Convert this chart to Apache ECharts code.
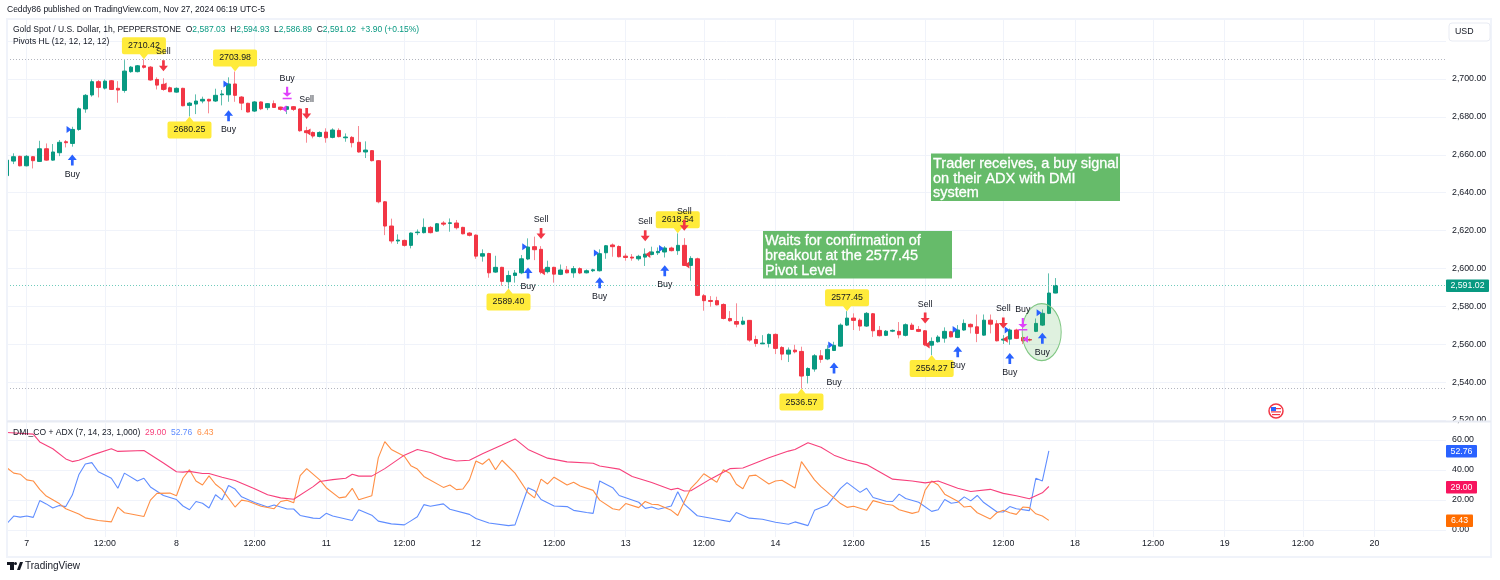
<!DOCTYPE html>
<html>
<head>
<meta charset="utf-8">
<style>html,body{margin:0;padding:0;background:#fff}#main{width:1500px;height:580px}</style>
<script src="https://cdn.jsdelivr.net/npm/echarts@6/dist/echarts.min.js"></script>
</head>
<body>
<div id="main"></div>
<script>
// hourly candles, one entry per bar from left to right
const opens = [2649.0,2656.7,2659.2,2654.2,2659.0,2656.5,2663.2,2657.2,2661.1,2666.9,2666.0,2673.4,2684.2,2691.6,2698.6,2695.2,2699.1,2695.1,2694.0,2703.9,2703.9,2707.0,2706.3,2699.8,2697.2,2695.4,2693.1,2695.1,2686.1,2686.8,2688.4,2689.3,2688.4,2691.7,2691.7,2697.4,2690.5,2687.2,2683.1,2687.9,2684.9,2687.0,2685.2,2684.0,2685.4,2684.2,2672.7,2671.8,2669.7,2672.0,2669.2,2672.9,2669.0,2669.2,2666.6,2661.5,2662.2,2656.9,2635.2,2622.4,2614.5,2614.8,2612.2,2618.9,2618.9,2621.7,2619.7,2624.0,2623.8,2624.0,2621.7,2618.7,2617.6,2606.5,2607.9,2598.1,2600.6,2593.0,2596.3,2597.7,2605.0,2611.5,2610.1,2598.3,2600.6,2596.9,2599.2,2597.7,2599.9,2597.7,2598.8,2598.8,2608.3,2612.4,2611.6,2606.5,2606.0,2605.1,2606.0,2607.4,2608.3,2608.7,2610.8,2609.4,2612.2,2601.6,2605.1,2585.6,2583.1,2583.0,2581.0,2573.6,2572.0,2570.6,2572.6,2562.5,2560.2,2560.4,2565.2,2558.3,2554.8,2556.9,2556.2,2543.5,2546.9,2553.9,2552.2,2556.7,2559.0,2570.1,2573.8,2572.7,2569.6,2576.1,2567.3,2564.7,2566.9,2566.8,2564.7,2570.1,2567.8,2567.1,2559.5,2561.3,2563.2,2566.6,2563.6,2567.5,2570.5,2569.2,2564.8,2572.7,2570.8,2562.2,2562.7,2567.5,2563.6,2562.5,2566.8,2570.1,2576.3,2587.03];
const closes = [2657.2,2659.0,2654.2,2659.2,2656.9,2663.2,2657.2,2661.5,2666.6,2666.4,2673.4,2684.3,2691.4,2698.6,2695.6,2698.9,2694.5,2694.2,2704.2,2706.3,2707.0,2706.2,2699.5,2696.8,2694.5,2693.3,2695.1,2685.9,2687.3,2688.4,2689.3,2688.4,2691.4,2692.1,2697.4,2691.4,2687.3,2682.6,2687.9,2684.3,2687.0,2685.0,2684.0,2685.4,2684.0,2672.7,2671.7,2669.9,2671.8,2669.0,2673.1,2669.6,2669.4,2666.4,2661.5,2662.5,2656.9,2635.2,2622.4,2614.5,2615.0,2612.2,2618.7,2619.2,2621.7,2618.9,2623.6,2623.4,2624.1,2621.5,2618.3,2617.5,2606.5,2607.8,2597.7,2600.6,2593.2,2596.3,2597.6,2605.1,2611.3,2609.9,2598.1,2600.6,2597.0,2599.2,2597.7,2599.9,2597.6,2598.8,2599.3,2607.8,2612.0,2611.5,2606.2,2605.8,2605.5,2606.4,2607.6,2608.7,2609.0,2610.8,2609.4,2612.2,2601.6,2605.3,2585.8,2583.0,2582.6,2580.8,2573.6,2572.4,2570.6,2572.2,2562.2,2560.4,2560.6,2565.2,2557.8,2554.8,2556.9,2556.0,2543.2,2547.2,2553.9,2552.0,2557.3,2559.4,2570.1,2573.8,2572.6,2569.6,2576.3,2567.1,2564.5,2566.9,2567.3,2565.0,2570.3,2567.8,2566.8,2559.7,2561.5,2563.8,2566.8,2563.9,2567.5,2571.0,2569.2,2565.7,2572.7,2570.6,2561.8,2562.7,2567.5,2563.1,2561.7,2562.2,2571.0,2576.3,2587.03,2591.02];
const lows = [2649.0,2655.1,2653.9,2653.9,2652.8,2656.2,2656.9,2656.9,2659.3,2663.9,2664.3,2672.7,2682.2,2690.7,2690.3,2694.5,2694.2,2687.5,2692.8,2703.3,2703.5,2705.5,2699.1,2694.5,2693.8,2693.1,2692.8,2685.6,2680.25,2681.5,2687.2,2681.9,2687.9,2686.1,2688.0,2688.0,2683.6,2682.4,2682.6,2683.6,2683.6,2684.9,2683.3,2681.5,2683.1,2672.2,2666.4,2668.7,2669.2,2666.4,2668.7,2669.2,2666.9,2663.9,2661.1,2658.3,2656.5,2634.4,2617.6,2613.2,2612.9,2611.5,2610.6,2617.6,2618.5,2618.5,2619.4,2622.4,2619.4,2620.6,2618.0,2616.9,2605.1,2603.6,2595.1,2597.7,2590.9,2589.40,2592.5,2597.0,2604.4,2604.4,2597.0,2597.4,2592.5,2596.5,2597.4,2595.1,2597.0,2597.4,2598.1,2598.4,2605.1,2606.2,2605.8,2604.1,2604.1,2604.1,2601.3,2606.9,2607.1,2605.8,2609.0,2607.2,2601.3,2593.5,2585.4,2577.7,2579.8,2580.5,2573.1,2571.9,2568.9,2570.1,2561.3,2558.7,2560.1,2558.3,2554.8,2551.6,2550.6,2555.2,2536.57,2539.3,2545.5,2550.2,2551.6,2556.4,2558.7,2569.6,2567.5,2567.1,2569.2,2563.9,2564.1,2564.3,2566.4,2563.1,2564.1,2567.5,2566.4,2559.0,2554.27,2560.8,2560.8,2563.6,2563.2,2567.1,2565.7,2561.1,2564.5,2565.7,2561.5,2560.1,2559.7,2562.7,2560.1,2561.5,2566.4,2569.6,2575.9,2586.89];
const highs = [2657.2,2660.8,2659.5,2659.9,2659.3,2667.4,2666.0,2665.7,2667.8,2667.8,2674.8,2685.0,2692.1,2699.8,2699.5,2699.8,2699.5,2698.9,2710.0,2706.9,2707.4,2710.42,2706.9,2700.9,2700.4,2696.0,2695.6,2695.4,2687.9,2691.9,2690.7,2689.6,2694.9,2694.2,2700.9,2703.98,2691.0,2687.5,2688.4,2688.2,2687.3,2688.7,2685.4,2685.7,2685.7,2684.5,2674.8,2672.4,2672.4,2674.0,2674.0,2674.0,2671.3,2669.9,2675.2,2667.1,2662.5,2657.2,2635.6,2626.3,2618.0,2615.3,2619.0,2620.6,2626.4,2622.4,2624.0,2625.0,2626.4,2625.6,2622.0,2619.2,2618.0,2610.1,2608.3,2606.7,2600.9,2598.8,2599.2,2607.1,2615.9,2616.8,2611.8,2604.1,2600.9,2602.1,2601.3,2601.3,2600.6,2599.5,2599.9,2610.1,2612.4,2613.2,2612.2,2607.9,2607.6,2607.2,2610.6,2611.5,2611.1,2611.8,2611.5,2618.54,2616.0,2606.5,2605.7,2586.5,2585.4,2585.1,2581.6,2577.5,2581.6,2574.5,2572.7,2564.5,2564.8,2565.7,2565.7,2559.0,2558.3,2559.7,2558.7,2547.8,2554.8,2556.9,2559.5,2561.3,2571.0,2577.45,2576.3,2573.6,2577.0,2576.5,2569.6,2567.5,2567.8,2571.7,2571.0,2571.3,2569.6,2567.5,2563.6,2564.8,2568.9,2567.1,2570.1,2573.1,2571.0,2575.7,2575.7,2575.7,2572.7,2564.8,2568.3,2568.2,2564.3,2563.1,2573.6,2578.4,2597.4,2594.93];

const xTickBars = [3,15,26,38,49,61,72,84,95,107,118,130,141,153,164,176,187,199,210];
const xTickLabels = ['7','12:00','8','12:00','11','12:00','12','12:00','13','12:00','14','12:00','15','12:00','18','12:00','19','12:00','20'];
const dmiTicks = [0,20,40,60];

// dotted price levels: pivot high, last price, pivot low
const levels = [2710.42,2591.02,2536.57];

// pivot callouts
const pivotHighBars = [21,35,103,129];
const pivotHighPrices = [2710.42,2703.98,2618.54,2577.45];
const pivotLowBars = [28,77,122,142];
const pivotLowPrices = [2680.25,2589.40,2536.57,2554.27];

// signal arrows
const buyBars = [10,34,80,91,101,127,146,154,159];
const buyPrices = [2657.2,2680.6,2597.6,2592.5,2598.8,2547.4,2556.0,2552.5,2563.2];
const sellBars = [24,46,82,98,104,141,153];
const sellPrices = [2707.0,2681.8,2618.4,2617.3,2622.8,2573.8,2571.2];
const pinkBuyBars = [43,156];
const pinkBuyPrices = [2692.6,2570.6];

// small entry triangles
const blueTriBars = [9.5,33.6,79.5,90.5,100.5,126.5,145.6,153.6,158.5];
const blueTriPrices = [2673.4,2697.4,2611.5,2608.1,2610.6,2559.6,2567.8,2567.5,2576.6];
const redTriBars = [24.1,46.2,82.2,98.4,104.4,141.3,153.3];
const redTriPrices = [2696.3,2672.0,2598.3,2607.4,2601.8,2559.6,2562.6];
const pinkTriBars = [42.5,156.4];
const pinkTriPrices = [2684.3,2562.6];

// DMI_CO + ADX vertices
const adxBars = [0,4,5,7,9,10,11,13,16,17,21,24,26,27,28,30,31,33,35,38,40,42,44,47,48,50,52,53,54,56,58,61,63,65,67,69,71,73,76,78,80,83,86,90,91,94,96,99,102,103,104,105,108,111,113,117,120,121,123,125,127,129,132,136,139,141,143,146,148,151,153,155,157,159,160];
const adxValues = [65.0,63.9,58.7,54.2,47.4,45.6,46.5,49.9,54.2,52.4,53.0,44.7,38.8,38.6,39.1,37.7,37.7,35.2,33.0,27.5,23.5,21.4,20.5,28.9,32.3,33.6,34.5,37.2,35.9,35.9,40.9,49.9,53.7,51.7,48.1,46.0,46.5,50.8,56.7,60.7,53.7,47.9,45.4,44.5,42.7,40.6,35.7,31.6,26.9,27.8,26.0,26.2,33.9,40.9,41.3,48.1,52.6,53.7,58.2,55.1,49.9,46.7,43.6,33.9,32.7,31.4,32.7,27.8,25.7,27.1,24.4,22.8,20.8,24.8,29.0];
const plusBars = [0,1,2,3,4,5,6,7,8,9,10,11,12,13,14,16,17,18,20,21,22,24,26,27,28,29,30,31,32,33,34,35,36,38,40,41,43,44,45,47,48,49,50,53,54,56,57,59,61,62,63,64,65,67,68,71,72,74,77,78,80,81,82,84,86,87,89,90,91,93,94,97,98,99,100,102,103,104,106,109,111,112,114,116,118,120,121,123,124,126,128,129,131,132,133,135,136,137,138,140,142,143,144,145,146,147,148,149,150,152,153,154,155,157,158,159,160];
const plusValues = [4.5,9.3,8.6,9.3,8.4,19.6,17.4,14.7,16.3,15.6,23.3,36.8,44.0,44.9,38.8,34.5,27.8,37.9,32.7,34.5,28.7,23.0,20.3,16.0,13.5,19.0,17.8,14.7,23.5,20.1,29.6,27.3,22.1,18.3,15.3,16.7,14.0,14.0,9.7,7.9,7.7,11.1,9.3,6.3,13.5,9.9,5.9,4.1,3.4,6.1,8.8,16.9,15.8,17.4,13.8,10.4,7.7,4.7,2.9,3.4,28.2,26.2,20.3,16.0,15.6,13.1,11.7,11.1,32.7,28.2,23.0,18.5,14.4,15.3,13.8,16.0,25.5,17.2,9.5,7.2,5.6,11.7,7.9,7.2,5.2,3.8,5.4,2.9,13.1,16.7,27.8,31.6,25.1,27.8,21.7,19.2,19.0,23.9,21.0,18.5,12.4,13.5,20.3,17.8,18.5,22.1,19.4,23.0,18.3,12.2,12.0,15.6,14.2,12.9,34.5,32.7,52.76];
const minusBars = [0,1,2,3,4,5,6,8,9,11,12,14,16,17,18,21,22,23,25,26,27,28,29,30,31,32,33,35,36,37,39,41,42,43,44,45,46,48,49,51,52,53,54,56,57,58,59,61,62,63,64,67,68,69,70,71,72,73,74,75,76,78,80,81,82,83,84,86,87,88,90,91,93,94,95,97,98,99,100,102,103,105,106,107,109,110,111,112,113,114,115,117,118,119,121,122,124,125,128,129,130,132,133,135,136,137,139,140,141,142,143,144,146,147,148,149,151,152,153,154,155,156,157,158,159,160];
const minusValues = [41.3,37.9,37.2,33.4,32.7,27.1,22.6,17.6,14.2,10.6,8.1,6.3,5.4,15.3,11.5,9.0,19.9,24.4,24.6,22.8,34.5,40.2,32.7,30.0,36.1,30.5,27.1,15.3,19.9,19.2,15.8,14.2,19.0,19.9,18.1,36.3,40.9,33.4,28.2,21.4,22.1,27.8,20.1,22.8,48.1,58.9,53.7,49.2,42.9,40.6,35.7,28.4,30.0,26.9,27.3,33.4,46.0,43.8,47.4,40.2,46.5,37.9,24.8,21.4,33.9,30.7,35.2,30.0,31.8,29.3,26.4,19.9,14.2,13.3,17.6,14.9,19.0,17.2,16.9,13.1,9.7,27.8,32.3,37.5,31.8,40.2,37.9,30.5,27.5,36.1,36.6,30.7,32.7,33.2,28.0,45.6,33.4,28.9,17.6,15.1,15.8,13.1,19.6,17.2,16.5,13.5,11.1,12.2,26.6,32.7,30.0,23.9,19.2,15.3,15.8,11.5,7.4,11.5,13.1,11.5,10.4,15.3,14.9,10.8,9.3,6.43];

const UP = '#089981', DOWN = '#f23645', BLUE = '#2962ff', PINK = '#e040fb', INK = '#131722', GRID = '#f0f3fa';
const FONT = '"Liberation Sans", Arial, sans-serif';

const arrowUp = 'path://M5 0L10 5.5L6.5 5.5L6.5 11L3.5 11L3.5 5.5L0 5.5Z';
const arrowDown = 'path://M3.5 0L6.5 0L6.5 5.5L10 5.5L5 11L0 5.5L3.5 5.5Z';
const arrowDownBar = 'path://M3.8 0L6.2 0L6.2 6L10 6L5 10L0 6L3.8 6ZM0 11L10 11L10 12.5L0 12.5Z';
const triRight = 'path://M0 0L6 4L0 8Z';
const triLeft = 'path://M6 0L0 4L6 8Z';
const calloutDown = 'path://M2 0L42 0Q44 0 44 2L44 15Q44 17 42 17L26 17L22 22L18 17L2 17Q0 17 0 15L0 2Q0 0 2 0Z';
const calloutUp = 'path://M22 0L26 5L42 5Q44 5 44 7L44 20Q44 22 42 22L2 22Q0 22 0 20L0 7Q0 5 2 5L18 5Z';

const zip = (xs, ys) => xs.map((x, i) => [x, ys[i]]);
const money = v => v.toLocaleString('en-US', {minimumFractionDigits: 2, maximumFractionDigits: 2});

function markerSeries(bars, prices, symbol, size, color, text, side) {
    return {
        type: 'scatter', xAxisIndex: 0, yAxisIndex: 0, z: 8, silent: true,
        symbol: symbol, symbolSize: size,
        itemStyle: {color: color, opacity: 1},
        label: text ? {show: true, position: side, distance: 4, formatter: text, fontSize: 8.8, color: INK, fontFamily: FONT} : {show: false},
        data: zip(bars, prices)
    };
}

function pivotSeries(bars, prices, symbol, offsetY, labelY) {
    return {
        type: 'scatter', xAxisIndex: 0, yAxisIndex: 0, z: 7, silent: true,
        symbol: symbol, symbolSize: [44, 22], symbolOffset: [0, offsetY],
        itemStyle: {color: '#ffeb3b', opacity: 1},
        label: {
            show: true, position: 'inside', offset: [0, labelY], fontSize: 8.8, color: INK, fontFamily: FONT,
            formatter: p => p.value[1].toFixed(2)
        },
        data: zip(bars, prices)
    };
}

function lineSeries(bars, values, color) {
    return {
        type: 'line', xAxisIndex: 1, yAxisIndex: 1, showSymbol: false, silent: true,
        lineStyle: {width: 1.1, color: color}, itemStyle: {color: color},
        data: zip(bars, values)
    };
}

function tag(y, w, color, text) {
    return [
        {type: 'rect', z: 20, shape: {x: 1446, y: y, width: w, height: 12.5, r: 1}, style: {fill: color}},
        {type: 'text', z: 21, style: {x: 1446 + w / 2, y: y + 6.5, text: text, fill: '#fff', font: '8.8px ' + FONT, align: 'center', verticalAlign: 'middle'}}
    ];
}

function noteBox(x, y, lines) {
    return [
        {type: 'rect', z: 20, shape: {x: x, y: y, width: 189, height: 47.5}, style: {fill: '#66bb6a'}},
        {type: 'text', z: 21, style: {x: x + 2, y: y + 3, text: lines.join('\n'), fill: '#fff', stroke: '#fff', lineWidth: 0.3, font: '14.5px ' + FONT, lineHeight: 14.7}}
    ];
}

const wicks = opens.map((o, i) => [i, o, closes[i], lows[i], highs[i]]);
const bodies = opens.map((o, i) => [i, o, closes[i], Math.min(o, closes[i]), Math.max(o, closes[i])]);

const chart = echarts.init(document.getElementById('main'));
chart.setOption({
    animation: false,
    backgroundColor: '#fff',
    textStyle: {fontFamily: FONT},
    grid: [
        {left: 7, right: 54, top: 19, height: 401},
        {left: 7, right: 54, top: 423, height: 114}
    ],
    xAxis: [
        {
            type: 'value', gridIndex: 0, min: -0.03, max: 221,
            axisLine: {show: false},
            axisTick: {show: false, customValues: xTickBars},
            axisLabel: {show: false, customValues: xTickBars},
            splitLine: {show: true, lineStyle: {color: GRID, width: 1}}
        },
        {
            type: 'value', gridIndex: 1, min: -0.03, max: 221,
            axisLine: {show: false},
            axisTick: {show: false, customValues: xTickBars},
            axisLabel: {
                show: true, customValues: xTickBars, margin: 2, fontSize: 8.8, color: INK, fontFamily: FONT,
                formatter: v => xTickLabels[xTickBars.indexOf(v)]
            },
            splitLine: {show: true, lineStyle: {color: GRID, width: 1}}
        }
    ],
    yAxis: [
        {
            type: 'value', gridIndex: 0, position: 'right', min: 2520, max: 2731.7, interval: 20,
            axisLine: {show: false}, axisTick: {show: false},
            axisLabel: {
                margin: 6, fontSize: 8.8, color: INK, fontFamily: FONT,
                formatter: v => v > 2700 ? '' : money(v)
            },
            splitLine: {lineStyle: {color: GRID, width: 1}}
        },
        {
            type: 'value', gridIndex: 1, position: 'right', min: -4.67, max: 71.33,
            axisLine: {show: false},
            axisTick: {show: false, customValues: dmiTicks},
            axisLabel: {
                customValues: dmiTicks, margin: 6, fontSize: 8.8, color: INK, fontFamily: FONT,
                formatter: v => v.toFixed(2)
            },
            splitLine: {lineStyle: {color: GRID, width: 1}}
        }
    ],
    series: [
        {
            type: 'candlestick', xAxisIndex: 0, yAxisIndex: 0, z: 3, silent: true, barWidth: 1,
            itemStyle: {color: '#5fbfae', color0: '#f78a94', borderColor: '#5fbfae', borderColor0: '#f78a94', borderWidth: 1},
            markLine: {
                silent: true, symbol: 'none', label: {show: false},
                data: [
                    {yAxis: levels[0], lineStyle: {color: '#b2b5be', type: [1, 2], width: 1}},
                    {yAxis: levels[1], lineStyle: {color: '#6fcbbb', type: [1, 2], width: 1}},
                    {yAxis: levels[2], lineStyle: {color: '#b2b5be', type: [1, 2], width: 1}}
                ]
            },
            data: wicks
        },
        {
            type: 'candlestick', xAxisIndex: 0, yAxisIndex: 0, z: 4, silent: true, barWidth: 4,
            itemStyle: {color: UP, color0: DOWN, borderColor: UP, borderColor0: DOWN, borderWidth: 1},
            data: bodies
        },
        // highlight ellipse around the last signal
        {
            type: 'scatter', xAxisIndex: 0, yAxisIndex: 0, z: 5, silent: true,
            symbol: 'circle', symbolSize: [39, 57],
            itemStyle: {color: 'rgba(76,175,80,0.18)', borderColor: '#81c784', borderWidth: 1.2, opacity: 1},
            data: [[158.9, 2566.4]]
        },
        pivotSeries(pivotHighBars, pivotHighPrices, calloutDown, -11, -2.5),
        pivotSeries(pivotLowBars, pivotLowPrices, calloutUp, 11, 2.5),
        markerSeries(buyBars, buyPrices, arrowUp, [9, 11], BLUE, 'Buy', 'bottom'),
        markerSeries(sellBars, sellPrices, arrowDown, [9, 11], DOWN, 'Sell', 'top'),
        markerSeries(pinkBuyBars, pinkBuyPrices, arrowDownBar, [9, 12.5], PINK, 'Buy', 'top'),
        markerSeries(blueTriBars, blueTriPrices, triRight, [5, 7], BLUE),
        markerSeries(redTriBars, redTriPrices, triLeft, [5, 7], DOWN),
        markerSeries(pinkTriBars, pinkTriPrices, triLeft, [5, 7], PINK),
        lineSeries(plusBars, plusValues, '#5f8dff'),
        lineSeries(minusBars, minusValues, '#ff8f45'),
        lineSeries(adxBars, adxValues, '#f7417c')
    ],
    graphic: [
        // first candle is cut by the pane edge
        {type: 'rect', z: 9, shape: {x: 0, y: 19, width: 6.5, height: 402}, style: {fill: '#fff'}},
        // outer frame and pane divider
        {type: 'rect', z: 10, shape: {x: 7, y: 19, width: 1484, height: 538}, style: {fill: 'none', stroke: GRID, lineWidth: 2}},
        {type: 'line', z: 10, shape: {x1: 7, y1: 421.5, x2: 1491, y2: 421.5}, style: {stroke: '#e8ebf3', lineWidth: 2}},
        {type: 'text', z: 21, style: {x: 7, y: 10, text: 'Ceddy86 published on TradingView.com, Nov 27, 2024 06:19 UTC-5', fill: INK, font: '8.5px ' + FONT, verticalAlign: 'middle'}},
        {type: 'text', z: 21, style: {
            x: 13, y: 30, verticalAlign: 'middle', font: '8.5px ' + FONT, fill: INK,
            text: '{k|Gold Spot / U.S. Dollar, 1h, PEPPERSTONE  O}{v|2,587.03}{k|  H}{v|2,594.93}{k|  L}{v|2,586.89}{k|  C}{v|2,591.02}{v|  +3.90 (+0.15%)}',
            rich: {k: {fill: INK, font: '8.5px ' + FONT}, v: {fill: UP, font: '8.5px ' + FONT}}
        }},
        {type: 'text', z: 21, style: {x: 13, y: 42, text: 'Pivots HL (12, 12, 12, 12)', fill: INK, font: '8.5px ' + FONT, verticalAlign: 'middle'}},
        {type: 'text', z: 21, style: {
            x: 13, y: 432.5, verticalAlign: 'middle', font: '8.5px ' + FONT, fill: INK,
            text: '{k|DMI_CO + ADX (7, 14, 23, 1,000)  }{a|29.00}{k|  }{b|52.76}{k|  }{c|6.43}',
            rich: {
                k: {fill: INK, font: '8.5px ' + FONT}, a: {fill: '#f7417c', font: '8.5px ' + FONT},
                b: {fill: '#5f8dff', font: '8.5px ' + FONT}, c: {fill: '#ff8f45', font: '8.5px ' + FONT}
            }
        }},
        // currency button
        {type: 'rect', z: 20, shape: {x: 1449, y: 23, width: 41, height: 18, r: 3}, style: {fill: '#fff', stroke: '#e8ebf3', lineWidth: 1}},
        {type: 'text', z: 21, style: {x: 1455, y: 32, text: 'USD', fill: INK, font: '8.8px ' + FONT, verticalAlign: 'middle'}},
        ...tag(279.5, 43, UP, money(closes[closes.length - 1])),
        ...tag(445, 31, BLUE, plusValues[plusValues.length - 1].toFixed(2)),
        ...tag(481, 31, '#f7145e', adxValues[adxValues.length - 1].toFixed(2)),
        ...tag(514.5, 27, '#ff6d00', minusValues[minusValues.length - 1].toFixed(2)),
        ...noteBox(931, 153.5, ['Trader receives, a buy signal', 'on their ADX with DMI', 'system']),
        ...noteBox(763, 231, ['Waits for confirmation of', 'breakout at the 2577.45', 'Pivot Level']),
        // economic calendar flag
        {type: 'circle', z: 20, shape: {cx: 1276, cy: 411, r: 7}, style: {fill: '#fff', stroke: DOWN, lineWidth: 1.5}},
        {type: 'rect', z: 21, shape: {x: 1271, y: 407, width: 5, height: 4}, style: {fill: BLUE}},
        {type: 'rect', z: 21, shape: {x: 1276, y: 408, width: 5, height: 1.2}, style: {fill: DOWN}},
        {type: 'rect', z: 21, shape: {x: 1271, y: 411.3, width: 10, height: 1.2}, style: {fill: DOWN}},
        {type: 'rect', z: 21, shape: {x: 1272, y: 414, width: 8, height: 1.2}, style: {fill: DOWN}},
        // TradingView logo
        {type: 'polygon', z: 21, shape: {points: [[7, 562], [14, 562], [14, 570], [10, 570], [10, 565], [7, 565]]}, style: {fill: INK}},
        {type: 'circle', z: 21, shape: {cx: 15.5, cy: 563.5, r: 1.5}, style: {fill: INK}},
        {type: 'polygon', z: 21, shape: {points: [[17, 570], [20, 562], [23, 562], [20, 570]]}, style: {fill: INK}},
        {type: 'text', z: 21, style: {x: 25, y: 566.5, text: 'TradingView', fill: INK, font: '10px ' + FONT, verticalAlign: 'middle'}}
    ]
});
</script>
</body>
</html>
